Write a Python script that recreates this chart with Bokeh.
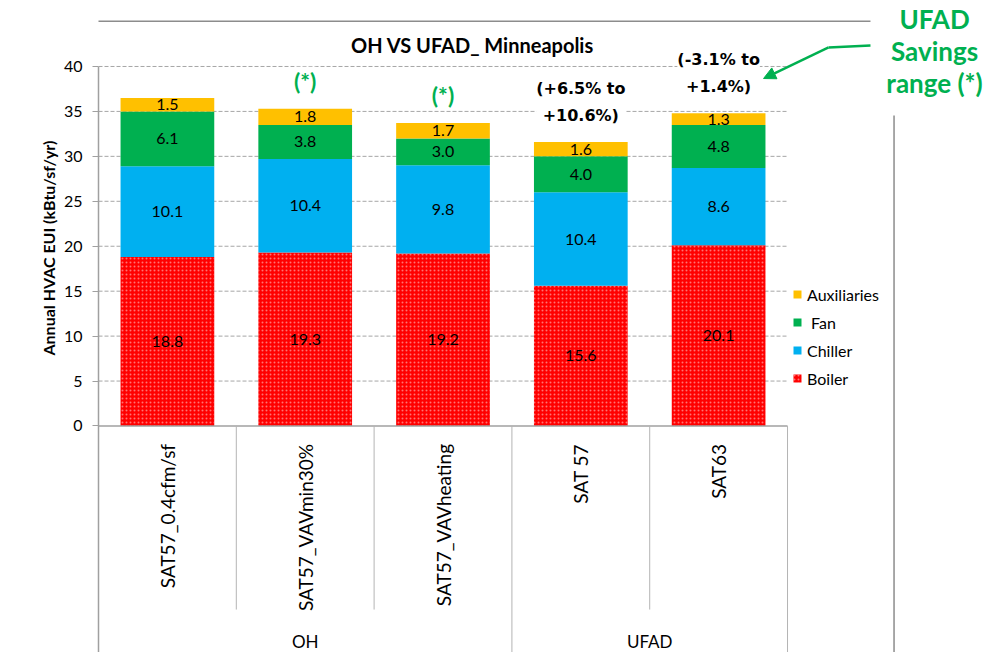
import math
import numpy as np
from bokeh.plotting import figure
from bokeh.models import (Range1d, FixedTicker, Label, Legend, LegendItem, Arrow,
                          NormalHead, Title)
from bokeh.core.properties import value
from bokeh.embed import file_html
from bokeh.resources import INLINE

# ---------------- data ----------------
categories = ["SAT57_0.4cfm/sf", "SAT57_VAVmin30%", "SAT57_VAVheating", "SAT 57", "SAT63"]
groups = ["OH", "OH", "OH", "UFAD", "UFAD"]
boiler = [18.8, 19.3, 19.2, 15.6, 20.1]
chiller = [10.1, 10.4, 9.8, 10.4, 8.6]
fan = [6.1, 3.8, 3.0, 4.0, 4.8]
aux = [1.5, 1.8, 1.7, 1.6, 1.3]
series_names = ["Boiler", "Chiller", " Fan", "Auxiliaries"]
series_colors = ["#FF0000", "#00B0F0", "#00B050", "#FFC000"]
savings_notes = ["", "(*)", "(*)", "(+6.5% to\n+10.6%)", "(-3.1% to\n+1.4%)"]
note_colors = ["#00B050", "#00B050", "#00B050", "#000000", "#000000"]
y_ticks = [0, 5, 10, 15, 20, 25, 30, 35, 40]
title_text = "OH VS UFAD_ Minneapolis"
y_label = "Annual HVAC EUI (kBtu/sf/yr)"
callout_text = "UFAD\nSavings\nrange (*)"

GREEN = "#00B050"
GRAY = "#A0A0A0"
FONT = "Lato"

n = len(categories)
xs = np.arange(n) + 0.5
series = [boiler, chiller, fan, aux]

Y_MIN, Y_MAX = -25.2, 47.34
p = figure(width=990, height=652, output_backend="svg", toolbar_location=None,
           x_range=Range1d(0, 6.473), y_range=Range1d(Y_MIN, Y_MAX),
           x_axis_location=None, min_border_left=98, min_border_right=0,
           min_border_top=0, min_border_bottom=0)
p.outline_line_color = None
p.background_fill_color = "white"
p.border_fill_color = "white"
p.xgrid.visible = False
p.ygrid.visible = False

ax = p.yaxis[0]
ax.ticker = FixedTicker(ticks=y_ticks)
ax.bounds = (Y_MIN, y_ticks[-1])
ax.axis_line_color = GRAY
ax.axis_line_width = 1.5
ax.major_tick_line_color = GRAY
ax.major_tick_out = 6
ax.major_tick_in = 0
ax.minor_tick_line_color = None
ax.major_label_text_font = FONT
ax.major_label_text_font_size = "16px"
ax.major_label_text_color = "black"
ax.major_label_standoff = 10

p.add_layout(Title(text=y_label, align="left", offset=297, text_font=FONT,
                   text_font_style="bold", text_font_size="16px", text_color="black",
                   standoff=6), "left")

# gridlines (value axis), drawn under the bars
grid_y = y_ticks[1:]
p.segment(x0=[0] * len(grid_y), y0=grid_y, x1=[n] * len(grid_y), y1=grid_y,
          line_color="#A6A6A6", line_dash="4 2", line_width=1)

# ---------------- stacked bars ----------------
bottoms = np.zeros(n)
renderers = []
label_x, label_y, label_t = [], [], []
for i, (vals, col) in enumerate(zip(series, series_colors)):
    vals = np.array(vals)
    tops = bottoms + vals
    kw = {}
    if i == 0:
        kw = dict(hatch_pattern="dot", hatch_color="white", hatch_scale=4,
                  hatch_weight=1, hatch_alpha=0.45)
    r = p.vbar(x=xs, bottom=bottoms, top=tops, width=0.68, fill_color=col,
               line_color=None, **kw)
    renderers.append(r)
    label_x += list(xs)
    label_y += list((bottoms + tops) / 2)
    label_t += ["%.1f" % v for v in vals]
    bottoms = tops
totals = bottoms

p.text(x=label_x, y=label_y, text=label_t, text_align="center", text_baseline="middle",
       text_font=value(FONT), text_font_size="16px", text_color="black")

# ---------------- category axis ----------------
p.segment(x0=[0], y0=[0], x1=[n], y1=[0], line_color=GRAY, line_width=1.5)
inner_x, outer_x = [], [n]
for k in range(1, n):
    (inner_x if groups[k] == groups[k - 1] else outer_x).append(k)
p.segment(x0=inner_x, y0=[0] * len(inner_x), x1=inner_x, y1=[-20.42] * len(inner_x),
          line_color="#B4B4B4", line_width=1)
p.segment(x0=outer_x, y0=[0] * len(outer_x), x1=outer_x, y1=[Y_MIN - 1] * len(outer_x),
          line_color="#B4B4B4", line_width=1)
p.text(x=xs, y=[-2.0] * n, text=categories, angle=math.pi / 2, text_align="right",
       text_baseline="middle", text_font=value(FONT), text_font_size="19px",
       text_color="black")
gnames = list(dict.fromkeys(groups))
gx = [float(np.mean([xs[i] for i in range(n) if groups[i] == g])) for g in gnames]
p.text(x=gx, y=[-24.03] * len(gnames), text=gnames, text_align="center",
       text_baseline="middle", text_font=value(FONT), text_font_size="17px",
       text_color="black")

# ---------------- texts ----------------
p.add_layout(Label(x=2.714, y=42.34, text=title_text, text_align="center",
                   text_baseline="middle", text_font=FONT, text_font_style="bold",
                   text_font_size="20px", text_color="black"))

for i in range(n):
    if not savings_notes[i]:
        continue
    green = note_colors[i] == GREEN
    p.add_layout(Label(x=xs[i], y=totals[i], y_offset=28 if green else 40,
                       text=savings_notes[i], text_align="center", text_baseline="middle",
                       text_font=FONT if green else "DejaVu Sans", text_font_style="bold",
                       text_font_size="23px" if green else "16px",
                       text_line_height=1.45, text_color=note_colors[i],
                       background_fill_color="white"))

# outer chart border
p.add_layout(Arrow(end=None, x_start=-1.0, y_start=45.04, x_end=5.602, y_end=45.04,
                   line_color="#8C8C8C", line_width=1.5))
p.add_layout(Arrow(end=None, x_start=5.773, y_start=34.55, x_end=5.773, y_end=Y_MIN - 1,
                   line_color="#8C8C8C", line_width=1.5))

# callout
p.add_layout(Label(x=6.067, y=41.67, text=callout_text, text_align="center",
                   text_baseline="middle", text_font=FONT, text_font_style="bold",
                   text_font_size="26px", text_line_height=1.0, text_color=GREEN))
p.add_layout(Arrow(end=None, x_start=5.602, y_start=42.34, x_end=5.298, y_end=42.12,
                   line_color=GREEN, line_width=2.5))
p.add_layout(Arrow(end=NormalHead(size=12, fill_color=GREEN, line_color=GREEN),
                   x_start=5.298, y_start=42.12, x_end=4.826, y_end=38.66,
                   line_color=GREEN, line_width=2.5))

# ---------------- legend ----------------
items = [LegendItem(label=series_names[i], renderers=[renderers[i]]) for i in [3, 2, 1, 0]]
legend = Legend(items=items, location=(694, 264), orientation="vertical",
                border_line_color=None, background_fill_alpha=0, padding=0, margin=0,
                spacing=8, glyph_width=10, glyph_height=10, label_height=20,
                label_standoff=5, label_text_font=FONT, label_text_font_size="16px",
                label_text_color="black")
p.add_layout(legend)

open("out.html", "w").write(file_html(p, INLINE))
